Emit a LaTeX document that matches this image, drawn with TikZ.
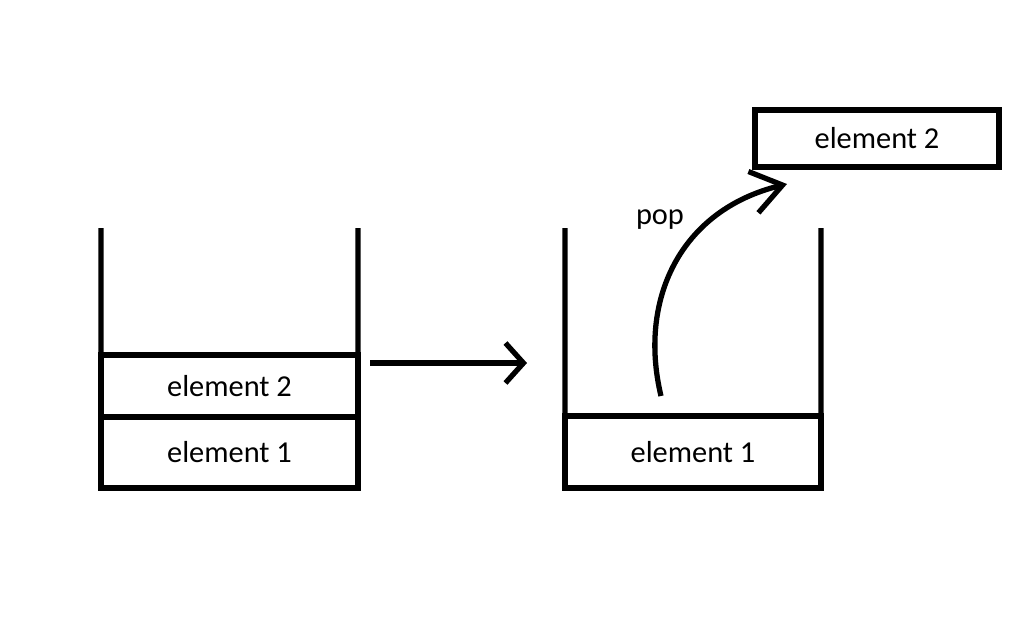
\documentclass[tikz,border=0pt]{standalone}
\usepackage{fontspec}
\setmainfont{Carlito}
\usetikzlibrary{shapes,arrows.meta}

\begin{document}
\begin{tikzpicture}[x=0.02cm,y=-0.02cm,line width=3pt,
    font=\fontsize{17.3pt}{20pt}\selectfont,
    cell/.style={draw,rectangle,inner sep=0pt,outer sep=0pt}]
      \useasboundingbox (0,0) rectangle (1029,633);

      % left stack
      \node[cell,minimum width=5.14cm,minimum height=1.24cm] (l2) at (229.5,386) {element 2};
      \node[cell,minimum width=5.14cm,minimum height=1.42cm] (l1) at (229.5,452.5) {element 1};
      \coordinate (ltl) at (101,228);
      \coordinate (ltr) at (358,228);

      % right stack
      \node[cell,minimum width=5.12cm,minimum height=1.44cm] (r1) at (693,452) {element 1};
      \coordinate (rtl) at (565,228);
      \coordinate (rtr) at (821,228);

      % popped element
      \node[cell,minimum width=4.88cm,minimum height=1.14cm] (top) at (877,138.5) {element 2};
      \node (pop) at (660,220) {pop};

      \coordinate (a1) at (370,363);
      \coordinate (a2) at (527,363);
      \coordinate (p1) at (661,396);
      \coordinate (p2) at (787,184);

      \draw (ltl) -- (l2.north west);
      \draw (ltr) -- (l2.north east);
      \draw (rtl) -- (r1.north west);
      \draw (rtr) -- (r1.north east);

      \draw[-{Straight Barb[length=0.36cm,width=0.8cm]}] (a1) -- (a2);
      \draw[-{Straight Barb[length=0.6cm,width=0.85cm]}] (p1) .. controls (638,300) and (680,210) .. (p2);
    \end{tikzpicture}
\end{document}
